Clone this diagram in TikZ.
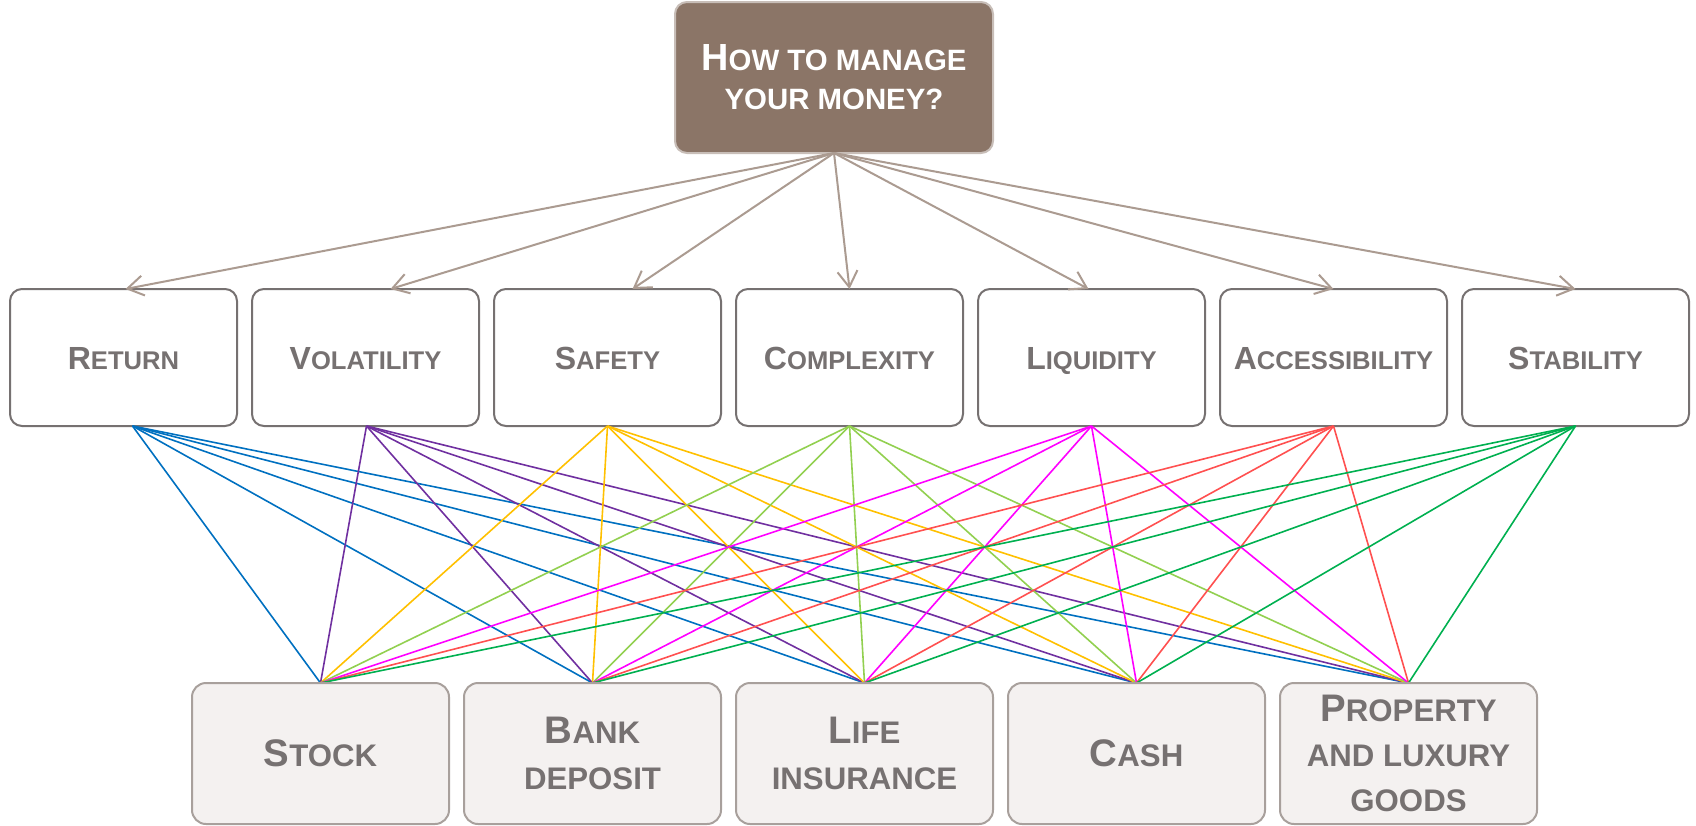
\documentclass[tikz,border=0pt]{standalone}
\usepackage{fontspec}
\setmainfont{Liberation Sans}
\usetikzlibrary{arrows.meta,calc}
\definecolor{topfill}{RGB}{139,117,103}
\definecolor{topborder}{RGB}{200,190,184}
\definecolor{arrowc}{RGB}{171,155,145}
\definecolor{midborder}{RGB}{118,113,113}
\definecolor{txtgray}{RGB}{118,113,113}
\definecolor{botfill}{RGB}{244,241,240}
\definecolor{botborder}{RGB}{168,160,156}
\definecolor{cRet}{HTML}{0070C0}
\definecolor{cVol}{HTML}{7030A0}
\definecolor{cSaf}{HTML}{FFC000}
\definecolor{cCom}{HTML}{92D050}
\definecolor{cLiq}{HTML}{FF00FF}
\definecolor{cAcc}{HTML}{FF5050}
\definecolor{cSta}{HTML}{00B050}
\newcommand\topT[2]{{\fontsize{18.9}{19.5}\selectfont #1}{\fontsize{14.7}{19.5}\selectfont #2}}
\newcommand\midT[2]{{\fontsize{16}{19}\selectfont #1}{\fontsize{12.8}{19}\selectfont #2}}
\newcommand\botT[2]{{\fontsize{19.2}{23}\selectfont #1}{\fontsize{15.6}{23}\selectfont #2}}
\begin{document}
\begin{tikzpicture}[x=0.5pt,y=-0.5pt,
  topbox/.style={draw=topborder,fill=topfill,line width=1pt,rounded corners=6pt,
    minimum width=159pt,minimum height=75.5pt,inner sep=0pt,outer sep=0pt,
    text=white,font=\bfseries\fontsize{14.7}{19.5}\selectfont,align=center},
  midbox/.style={draw=midborder,fill=white,line width=1pt,rounded corners=6pt,
    minimum width=113.5pt,minimum height=68.5pt,inner sep=0pt,outer sep=0pt,
    text height=11.5pt,text depth=0pt,
    text=txtgray,font=\bfseries,align=center},
  botbox/.style={draw=botborder,fill=botfill,line width=1pt,rounded corners=7pt,
    minimum width=128.5pt,minimum height=70.5pt,inner sep=0pt,outer sep=0pt,
    text=txtgray,font=\bfseries\fontsize{15.6}{23}\selectfont,align=center},
  proptxt/.style={font=\bfseries\fontsize{15.6}{22.3}\selectfont},
  arr/.style={draw=arrowc,line width=1pt,-{Straight Barb[length=8pt,width=10pt,line width=1pt]}},
  conn/.style={line width=0.8pt}
]
\useasboundingbox (0,0) rectangle (1696,825);

% top node
\node[topbox] (top) at (834,77.5) {\topT{H}{OW TO MANAGE}\\ YOUR MONEY?};

% middle nodes
\node[midbox] (m1) at (123.5,357.5) {\midT{R}{ETURN}};
\node[midbox] (m2) at (365.5,357.5) {\midT{V}{OLATILITY}};
\node[midbox] (m3) at (607.5,357.5) {\midT{S}{AFETY}};
\node[midbox] (m4) at (849.5,357.5) {\midT{C}{OMPLEXITY}};
\node[midbox] (m5) at (1091.5,357.5) {\midT{L}{IQUIDITY}};
\node[midbox] (m6) at (1333.5,357.5) {\midT{A}{CCESSIBILITY}};
\node[midbox] (m7) at (1575.5,357.5) {\midT{S}{TABILITY}};

% arrow targets
\coordinate (t1) at ($(m1.north)+(2,0)$);
\coordinate (t2) at ($(m2.north)+(25,0)$);
\coordinate (t3) at ($(m3.north)+(25,0)$);
\coordinate (t4) at (m4.north);
\coordinate (t5) at ($(m5.north)+(-3,0)$);
\coordinate (t6) at (m6.north);
\coordinate (t7) at (m7.north);
\foreach \i in {1,...,7} \draw[arr] (top.south) -- (t\i);

% connector origins
\coordinate (o1) at ($(m1.south)+(9,0)$);
\coordinate (o2) at ($(m2.south)+(1,0)$);
\coordinate (o3) at (m3.south);
\coordinate (o4) at (m4.south);
\coordinate (o5) at (m5.south);
\coordinate (o6) at (m6.south);
\coordinate (o7) at (m7.south);

% bottom node anchors (top edge centres)
\coordinate (e1) at (320.5,683);
\coordinate (e2) at (592.5,683);
\coordinate (e3) at (864.5,683);
\coordinate (e4) at (1136.5,683);
\coordinate (e5) at (1408.5,683);

\foreach \i/\c in {1/cRet,2/cVol,3/cSaf,4/cCom,5/cLiq,6/cAcc,7/cSta}
  \foreach \j in {1,...,5}
    \draw[conn,draw=\c] (o\i) -- (e\j);

% bottom nodes
\node[botbox] (b1) at (320.5,753.5) {\botT{S}{TOCK}};
\node[botbox] (b2) at (592.5,753.5) {\botT{B}{ANK}\\ DEPOSIT};
\node[botbox] (b3) at (864.5,753.5) {\botT{L}{IFE}\\ INSURANCE};
\node[botbox] (b4) at (1136.5,753.5) {\botT{C}{ASH}};
\node[botbox,proptxt] (b5) at (1408.5,753.5) {{\fontsize{19.2}{22.3}\selectfont P}ROPERTY\\ AND LUXURY\\ GOODS};
\end{tikzpicture}
\end{document}
